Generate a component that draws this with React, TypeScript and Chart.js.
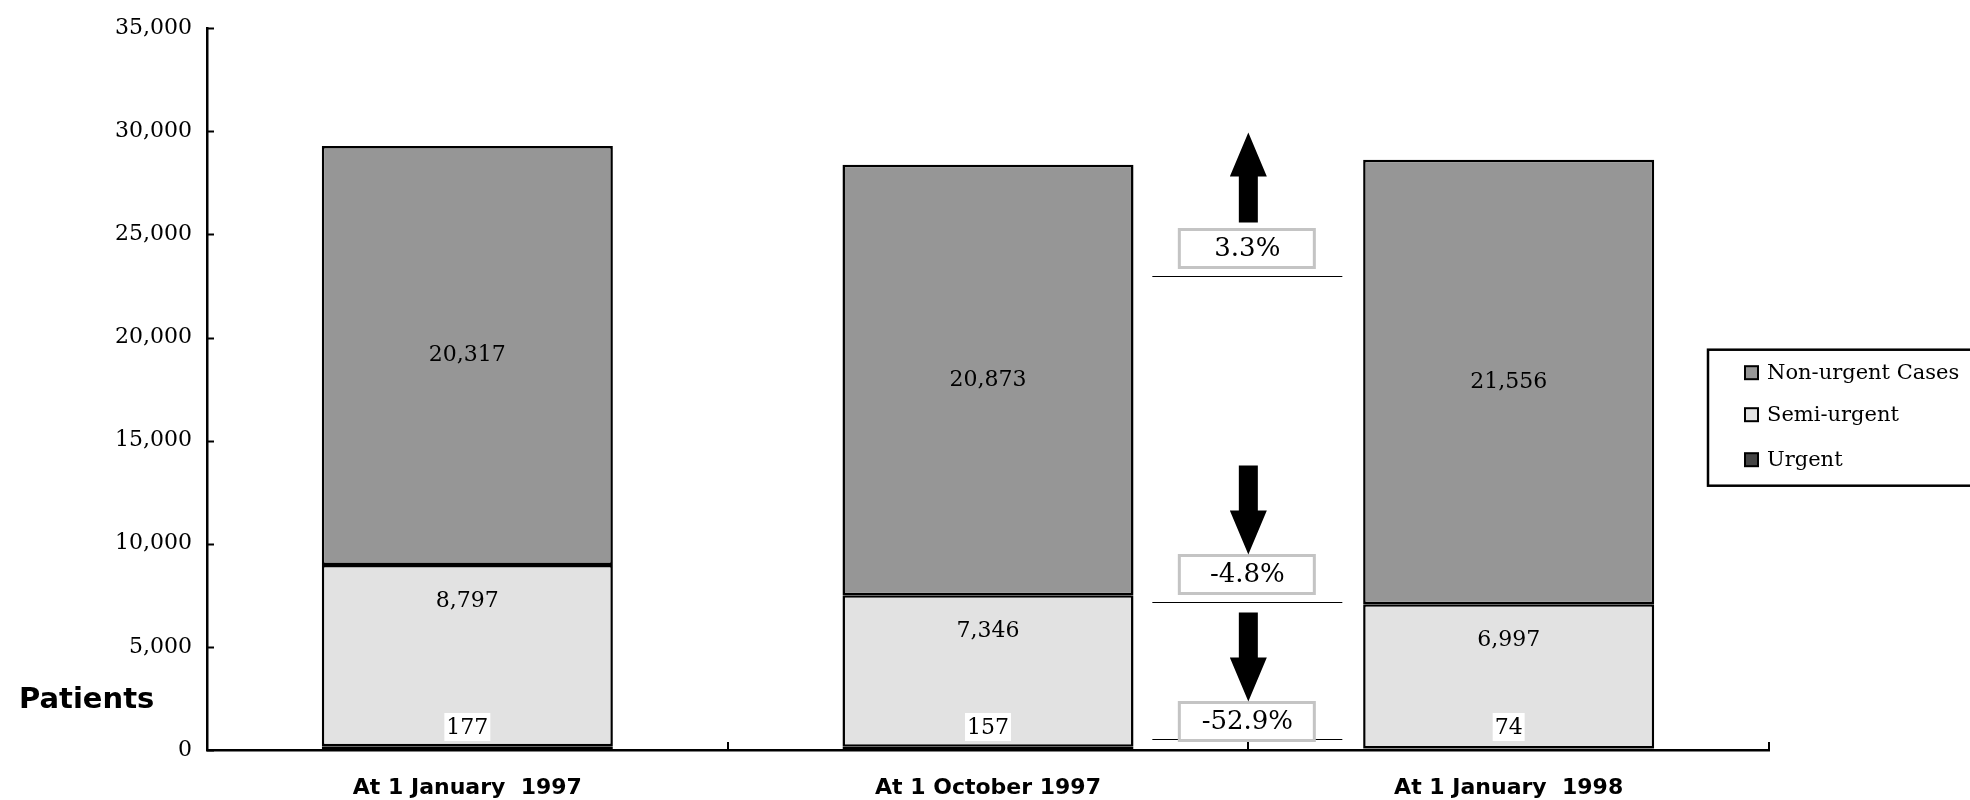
import React, { useEffect, useRef } from 'react';
import { Chart, registerables } from 'chart.js';

Chart.register(...registerables);

// ---- data ----
const categories = ['At 1 January  1997', 'At 1 October 1997', 'At 1 January  1998'];
const urgent = [177, 157, 74];
const semiUrgent = [8797, 7346, 6997];
const nonUrgent = [20317, 20873, 21556];
const seriesNames = ['Urgent', 'Semi-urgent', 'Non-urgent Cases'];
const yTickValues = [0, 5000, 10000, 15000, 20000, 25000, 30000, 35000];
const yAxisTitle = 'Patients';
const changeLabels = ['3.3%', '-4.8%', '-52.9%'];
const changeDirections = ['up', 'down', 'down'];
const changeLevels = [23000, 7200, 530];

// ---- styles ----
const COLORS = ['#444444', '#e2e2e2', '#969696'];
const SERIF = '"DejaVu Serif", serif';
const SANS = '"DejaVu Sans", sans-serif';
const BOX_OFFSETS = [9, 9, -1];

const fmt = (v: number) => v.toLocaleString('en-US');

const customPlugin = {
  id: 'customDraw',
  afterDatasetsDraw(chart: any) {
    const { ctx, chartArea, scales } = chart;
    const x = scales.x;
    const y = scales.y;
    ctx.save();

    // inward ticks
    ctx.strokeStyle = '#000';
    ctx.lineWidth = 2;
    yTickValues.forEach((v) => {
      const py = Math.round(y.getPixelForValue(v)) + 0.5;
      ctx.beginPath();
      ctx.moveTo(chartArea.left, py);
      ctx.lineTo(chartArea.left + 7, py);
      ctx.stroke();
    });
    for (let i = 1; i <= categories.length; i++) {
      const px = Math.round(x.getPixelForValue(i - 0.5));
      ctx.beginPath();
      ctx.moveTo(px, chartArea.bottom);
      ctx.lineTo(px, chartArea.bottom - 8);
      ctx.stroke();
    }

    // data labels
    ctx.font = `22px ${SERIF}`;
    ctx.textAlign = 'center';
    ctx.textBaseline = 'middle';
    const metaU = chart.getDatasetMeta(0);
    const metaS = chart.getDatasetMeta(1);
    const metaN = chart.getDatasetMeta(2);
    categories.forEach((_, i) => {
      const eN = metaN.data[i];
      const eS = metaS.data[i];
      const eU = metaU.data[i];
      ctx.fillStyle = '#000';
      ctx.fillText(fmt(nonUrgent[i]), eN.x, (eN.y + eN.base) / 2);
      ctx.fillText(fmt(semiUrgent[i]), eS.x, eS.y + 36);
      const t = fmt(urgent[i]);
      const w = ctx.measureText(t).width + 4;
      const cy = y.getPixelForValue(0) - 23;
      ctx.fillStyle = '#fff';
      ctx.fillRect(eU.x - w / 2, cy - 14, w, 28);
      ctx.fillStyle = '#000';
      ctx.fillText(t, eU.x, cy + 1);
    });

    // change annotations
    const cx = x.getPixelForValue(1.5);
    changeLabels.forEach((lab, k) => {
      const ly = Math.round(y.getPixelForValue(changeLevels[k])) + 0.5;
      ctx.strokeStyle = '#000';
      ctx.lineWidth = 1;
      ctx.beginPath();
      ctx.moveTo(cx - 96, ly);
      ctx.lineTo(cx + 94, ly);
      ctx.stroke();

      const bw = 135;
      const bh = 38;
      const bTop = ly - BOX_OFFSETS[k] - bh;
      ctx.fillStyle = '#fff';
      ctx.fillRect(cx - 69, bTop, bw, bh);
      ctx.strokeStyle = '#c4c4c4';
      ctx.lineWidth = 3;
      ctx.strokeRect(cx - 69, bTop, bw, bh);
      ctx.fillStyle = '#000';
      ctx.font = `26px ${SERIF}`;
      ctx.textAlign = 'center';
      ctx.textBaseline = 'middle';
      ctx.fillText(lab, cx - 1, bTop + bh / 2 + 1);

      // arrow
      ctx.fillStyle = '#000';
      ctx.beginPath();
      if (changeDirections[k] === 'up') {
        const bottom = bTop - 7;
        const tip = bottom - 90;
        const headBase = tip + 44;
        ctx.moveTo(cx, tip);
        ctx.lineTo(cx + 18.5, headBase);
        ctx.lineTo(cx + 9.5, headBase);
        ctx.lineTo(cx + 9.5, bottom);
        ctx.lineTo(cx - 9.5, bottom);
        ctx.lineTo(cx - 9.5, headBase);
        ctx.lineTo(cx - 18.5, headBase);
      } else {
        const tip = bTop - 1;
        const top = tip - 89;
        const headBase = tip - 44;
        ctx.moveTo(cx, tip);
        ctx.lineTo(cx + 18.5, headBase);
        ctx.lineTo(cx + 9.5, headBase);
        ctx.lineTo(cx + 9.5, top);
        ctx.lineTo(cx - 9.5, top);
        ctx.lineTo(cx - 9.5, headBase);
        ctx.lineTo(cx - 18.5, headBase);
      }
      ctx.closePath();
      ctx.fill();
    });

    // legend
    const lx = chartArea.right - 61;
    const ly0 = chartArea.top + 321.5;
    ctx.strokeStyle = '#000';
    ctx.lineWidth = 2.5;
    ctx.fillStyle = '#fff';
    ctx.fillRect(lx, ly0, 300, 136);
    ctx.strokeRect(lx, ly0, 300, 136);
    const rowOffsets = [23, 65, 110];
    ctx.font = `21px ${SERIF}`;
    ctx.textAlign = 'left';
    ctx.textBaseline = 'middle';
    [2, 1, 0].forEach((si, r) => {
      const ry = ly0 + rowOffsets[r];
      ctx.fillStyle = COLORS[si];
      ctx.fillRect(lx + 37, ry - 6.5, 13, 13);
      ctx.strokeStyle = '#000';
      ctx.lineWidth = 2;
      ctx.strokeRect(lx + 37, ry - 6.5, 13, 13);
      ctx.fillStyle = '#000';
      ctx.fillText(seriesNames[si], lx + 59, ry + 1);
    });

    // axis title
    ctx.font = `bold 29px ${SANS}`;
    ctx.textAlign = 'left';
    ctx.textBaseline = 'middle';
    ctx.fillStyle = '#000';
    ctx.fillText(yAxisTitle, 19, y.getPixelForValue(0) - 50);

    ctx.restore();
  },
};

export default function App() {
  const ref = useRef<HTMLCanvasElement | null>(null);
  useEffect(() => {
    document.body.style.margin = '0';
    const canvas = ref.current;
    if (!canvas) return;
    const data = [urgent, semiUrgent, nonUrgent];
    const chart = new Chart(canvas, {
      type: 'bar',
      data: {
        labels: categories,
        datasets: data.map((d, i) => ({
          label: seriesNames[i],
          data: d,
          backgroundColor: COLORS[i],
          borderColor: '#000',
          borderWidth: 2.5,
          borderSkipped: false,
          barPercentage: 0.559,
          categoryPercentage: 1,
        })),
      },
      options: {
        responsive: false,
        animation: false,
        events: [],
        layout: { padding: { top: 25, right: 201, bottom: 0, left: 0 } },
        plugins: { legend: { display: false }, tooltip: { enabled: false } },
        scales: {
          x: {
            stacked: true,
            grid: { display: false, drawTicks: false },
            border: { display: true, color: '#000', width: 2.5 },
            ticks: {
              color: '#000',
              font: { family: SANS, weight: 'bold', size: 22 },
              padding: 25,
              maxRotation: 0,
              autoSkip: false,
            },
            afterFit: (s: any) => {
              s.height = 50;
            },
          },
          y: {
            stacked: true,
            min: 0,
            max: 35000,
            grid: { display: false, drawTicks: false },
            border: { display: true, color: '#000', width: 2.5 },
            ticks: {
              stepSize: 5000,
              color: '#000',
              font: { family: SERIF, size: 22 },
              padding: 15,
              callback: (v: any) => fmt(Number(v)),
            },
            afterFit: (s: any) => {
              s.width = 207;
            },
          },
        },
      },
      plugins: [customPlugin],
    });
    return () => chart.destroy();
  }, []);
  return <canvas ref={ref} width={1970} height={800} style={{ display: 'block' }} />;
}
